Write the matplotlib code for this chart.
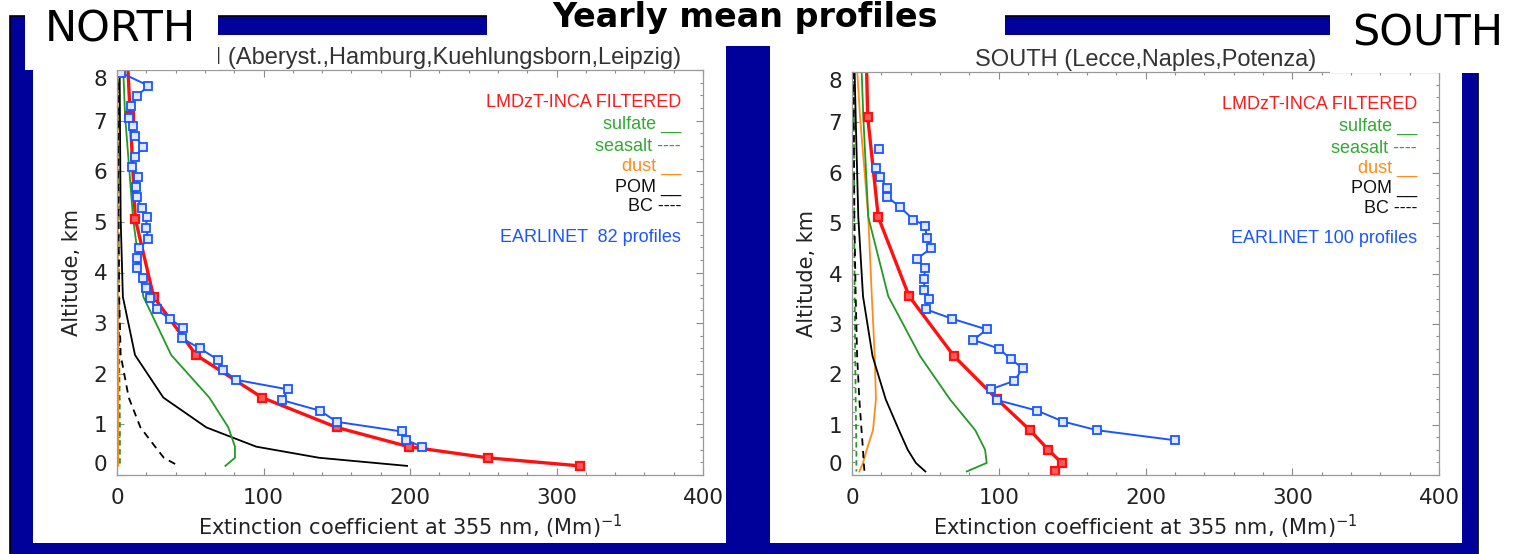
import matplotlib
matplotlib.use("Agg")
import matplotlib.pyplot as plt
import numpy as np
from matplotlib.patches import Rectangle
from matplotlib.ticker import MultipleLocator

W, H = 1516, 554

# ---- NORTH: model (LMDzT-INCA) profiles, extinction in Mm-1 vs altitude km
north_z = [8.0, 7.1, 5.06, 3.52, 2.37, 1.53, 0.94, 0.56, 0.34, 0.18]
north_total = [7.5, 9, 12.5, 25, 54, 99, 150, 199, 253, 316]
north_sulfate = [4.3, 5.5, 11, 18, 37, 63, 76, 80.5, 80.5, 74]
north_seasalt = [1.0, 1.0, 1.1, 1.3, 1.5, 1.8, 2.0, 2.0, 2.0, 2.0]
north_dust = [0.4, 0.4, 0.5, 0.6, 0.7, 0.8, 0.8, 0.8, 0.8, 0.8]
north_pom = [1.8, 2.0, 2.5, 4.0, 12.3, 31.6, 61, 95, 138, 198]
north_bc = [0.6, 0.7, 1.0, 1.5, 2.5, 8, 16, 26, 32, 42]

# EARLINET mean, 82 profiles
north_obs_z = [7.95, 7.69, 7.49, 7.28, 7.05, 6.9, 6.69, 6.48, 6.29, 6.08,
               5.88, 5.69, 5.49, 5.28, 5.09, 4.88, 4.66, 4.48, 4.28, 4.08,
               3.89, 3.69, 3.49, 3.27, 3.08, 2.9, 2.7, 2.5, 2.27, 2.08,
               1.88, 1.69, 1.48, 1.27, 1.05, 0.86, 0.69, 0.56]
north_obs = [2.5, 21.4, 13.9, 9.3, 8.4, 11.1, 12.3, 18, 12.3, 10,
             14.5, 13, 13.4, 16.8, 20.3, 19.8, 21.4, 15.2, 13.9, 13.9,
             17.5, 19.8, 22.5, 27.1, 36.2, 45.3, 44.2, 56.7, 69.2, 72.1,
             81.2, 117, 112.4, 138.6, 150, 194.3, 197.3, 208]

# ---- SOUTH
south_z = [8.0, 7.11, 5.12, 3.55, 2.36, 1.5, 0.89, 0.5, 0.24, 0.07]
south_total = [10, 10.7, 17.9, 38.9, 69.5, 99, 121.3, 133.8, 142.9, 138.4]
south_sulfate = [6.6, 7.7, 11.1, 24.7, 46.4, 66.8, 84, 90.7, 91.8, 78.2]
south_seasalt = [1.2, 1.3, 1.5, 1.8, 2.2, 2.5, 2.8, 3.0, 3.0, 3.0]
south_dust = [3.6, 5.5, 11.1, 13.5, 15.5, 16.3, 14.3, 10, 7.5, 5]
south_pom = [1.8, 2.5, 4.3, 7.5, 14, 23, 32, 38, 43.5, 50]
south_bc = [1.0, 1.2, 1.6, 2.5, 3.5, 5, 6.5, 7.5, 8, 8.5]

# EARLINET mean, 100 profiles (gap after the topmost sample)
south_obs_z = [6.48, np.nan, 6.1, 5.92, 5.69, 5.52, 5.32, 5.07, 4.95, 4.7,
               4.5, 4.29, 4.1, 3.9, 3.67, 3.49, 3.29, 3.1, 2.89, 2.68,
               2.51, 2.3, 2.12, 1.87, 1.7, 1.49, 1.28, 1.06, 0.89, 0.69]
south_obs = [18.4, np.nan, 16.4, 19.1, 24.1, 24.1, 32.7, 41.8, 49.8, 50.9,
             53.9, 44.1, 49.8, 49.1, 49.3, 52.5, 50.2, 68.4, 91.8, 82.7,
             100.2, 108.2, 116.4, 110.6, 94.5, 98.6, 125.9, 144, 166.8, 220]

legend_items = [
    ("LMDzT-INCA FILTERED", "#ff1a1a"),
    ("sulfate __", "#33a833"),
    ("seasalt ----", "#33a833"),
    ("dust __", "#ff8c1a"),
    ("POM __", "#111111"),
    ("BC ----", "#111111"),
]
legend_y = [7.35, 6.92, 6.48, 6.09, 5.69, 5.3]

BLUE_BG = "#00009a"
RED = "#ff1010"
GREEN = "#229a22"
ORANGE = "#ff8c1a"
OBS_BLUE = "#1a55ff"


def fbox(x0, y0, x1, y1):
    """pixel box (top-left origin) -> figure fraction [left, bottom, w, h]"""
    return [x0 / W, 1 - y1 / H, (x1 - x0) / W, (y1 - y0) / H]


def add_rect(fig, x0, y0, x1, y1, color, z, **kw):
    l, b, w, h = fbox(x0, y0, x1, y1)
    fig.add_artist(Rectangle((l, b), w, h, transform=fig.transFigure,
                             facecolor=color, zorder=z, **kw))


def draw_panel(ax, z, total, sulfate, seasalt, dust, pom, bc,
               obs_z, obs, n_prof, title):
    ax.plot(seasalt, z, color=GREEN, lw=1.3, ls=(0, (3, 2)))
    ax.plot(dust, z, color=ORANGE, lw=1.3)
    ax.plot(bc, z, color="black", lw=1.3, ls=(0, (4, 3)))
    ax.plot(pom, z, color="black", lw=1.3)
    ax.plot(sulfate, z, color=GREEN, lw=1.3)
    ax.plot(total, z, color=RED, lw=2.4, marker="s", ms=6, mew=1.6,
            mfc="#ff5a5a", mec=RED, markevery=slice(1, None))
    ax.plot(obs, obs_z, color=OBS_BLUE, lw=1.4, marker="s", ms=6, mew=1.3,
            mfc="#dfe8ff", mec=OBS_BLUE)

    ax.set_xlim(0, 400)
    ax.set_ylim(0, 8)
    ax.set_xticks([0, 100, 200, 300, 400])
    ax.set_yticks(range(9))
    ax.xaxis.set_minor_locator(MultipleLocator(20))
    ax.yaxis.set_minor_locator(MultipleLocator(0.25))
    ax.tick_params(which="both", direction="in", top=True, right=True,
                   color="#8a8a8a", width=0.8)
    ax.tick_params(which="major", length=5, labelsize=15.5, pad=9,
                   labelcolor="#222222")
    ax.tick_params(axis="y", which="major", pad=7)
    ax.tick_params(which="minor", length=2.5)
    # end labels of the altitude axis are pulled inside the frame
    yt = ax.yaxis.get_major_ticks()
    yt[0].label1.set_verticalalignment("bottom")
    yt[-1].label1.set_verticalalignment("top")
    for s in ax.spines.values():
        s.set_color("#9a9a9a")
        s.set_linewidth(0.9)
    ax.set_xlabel("Extinction coefficient at 355 nm, (Mm)$^{-1}$",
                  fontsize=15, color="#222222", labelpad=4)
    ax.set_ylabel("Altitude, km", fontsize=15, color="#222222", labelpad=8)
    ax.set_title(title, fontsize=17, family="Liberation Sans",
                 color="#333333", pad=4)

    for (txt, col), yy in zip(legend_items, legend_y):
        ax.text(385, yy, txt, color=col, fontsize=13, ha="right",
                va="center", family="Liberation Sans")
    ax.text(385, 4.7, f"EARLINET {n_prof:>3} profiles", color=OBS_BLUE,
            fontsize=13, ha="right", va="center", family="Liberation Sans")


fig = plt.figure(figsize=(W / 100, H / 100), dpi=100)
fig.patch.set_facecolor("white")

# slide background: blue frame, white plot cards, header boxes
add_rect(fig, 10, 16, 1478, 600, BLUE_BG, 0, edgecolor="black", lw=1.2)
add_rect(fig, 33, 35, 726, 543, "white", 1)
add_rect(fig, 770, 35, 1462, 543, "white", 1)
add_rect(fig, 487, -5, 1005, 46, "white", 1)

ax_n = fig.add_axes(fbox(117, 70, 703, 475))
ax_s = fig.add_axes(fbox(852, 72, 1439, 475))
for a in (ax_n, ax_s):
    a.set_zorder(2)

draw_panel(ax_n, north_z, north_total, north_sulfate, north_seasalt,
           north_dust, north_pom, north_bc, north_obs_z, north_obs, 82,
           "NORTH (Aberyst.,Hamburg,Kuehlungsborn,Leipzig)")
draw_panel(ax_s, south_z, south_total, south_sulfate, south_seasalt,
           south_dust, south_pom, south_bc, south_obs_z, south_obs, 100,
           "SOUTH (Lecce,Naples,Potenza)")

# header boxes sit above the plot titles
for x0, y0, x1, y1 in [(25, -5, 218, 70), (1330, -5, 1520, 73)]:
    l, b, w, h = fbox(x0, y0, x1, y1)
    fig.add_artist(Rectangle((l, b), w, h, transform=fig.transFigure,
                             facecolor="white", zorder=5))

fig.text(45 / W, 1 - 42 / H, "NORTH", fontsize=31, ha="left",
         va="baseline", zorder=6)
fig.text(1352 / W, 1 - 45 / H, "SOUTH", fontsize=31, ha="left",
         va="baseline", zorder=6)
fig.text(745 / W, 1 - 27 / H, "Yearly mean profiles", fontsize=24,
         fontweight="bold", ha="center", va="baseline", zorder=6)

fig.savefig("out.png", dpi=100)
